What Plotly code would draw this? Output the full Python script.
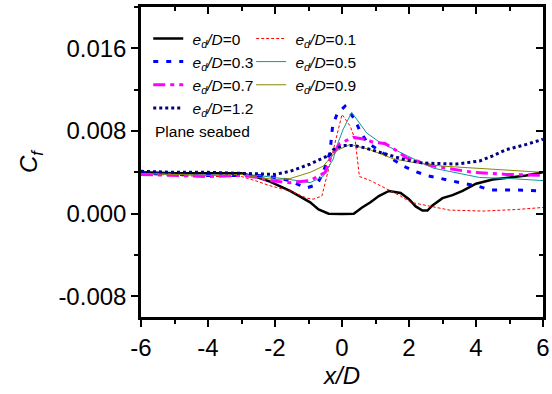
import plotly.graph_objects as go

# ---------------- data ----------------
x_e0 = [-6, -5, -4, -3, -2.5, -2.15, -1.55, -1.2, -0.95, -0.7, -0.4, 0, 0.35, 0.6, 0.85, 1.1, 1.4, 1.75, 2.0, 2.2, 2.4, 2.55, 2.7, 3.0, 3.3, 3.6, 4.0, 4.5, 5.0, 5.5, 6.0]
cf_e0 = [0.0040, 0.0039, 0.0039, 0.0039, 0.0035, 0.0031, 0.0022, 0.0016, 0.0011, 0.0004, 0.0000, -0.00003, 0.0000, 0.0006, 0.0011, 0.0017, 0.0022, 0.0020, 0.0014, 0.0007, 0.0003, 0.0003, 0.0008, 0.0015, 0.0018, 0.0022, 0.0029, 0.0033, 0.0035, 0.0037, 0.0040]

x_e01 = [-6, -5, -4, -3, -2.5, -2.15, -1.55, -1.05, -0.86, -0.6, 0.0, 0.24, 0.39, 0.52, 0.85, 1.35, 1.75, 2.05, 2.65, 3.2, 4.2, 5.2, 6.0]
cf_e01 = [0.0039, 0.0037, 0.0036, 0.0036, 0.0031, 0.0027, 0.0022, 0.0015, 0.0014, 0.0017, 0.0096, 0.0085, 0.0072, 0.0036, 0.0032, 0.0024, 0.0017, 0.0011, 0.0007, 0.00035, 0.00025, 0.0004, 0.0006]

x_e03 = [-6, -5, -4, -3, -2.5, -2.0, -1.55, -1.3, -1.05, -0.75, -0.56, -0.36, -0.28, -0.14, 0.09, 0.39, 0.52, 0.75, 1.2, 1.83, 2.18, 2.52, 2.92, 3.27, 3.67, 4.02, 4.41, 5.1, 6.0]
cf_e03 = [0.0039, 0.0038, 0.0037, 0.0037, 0.0037, 0.0035, 0.0032, 0.0028, 0.0025, 0.0028, 0.0040, 0.0059, 0.0085, 0.0097, 0.0104, 0.0091, 0.0081, 0.0069, 0.0059, 0.0046, 0.0041, 0.0037, 0.0034, 0.0032, 0.0029, 0.0027, 0.0023, 0.0023, 0.0022]

x_e05 = [-6, -5, -4, -3, -2.5, -1.55, -0.95, -0.56, -0.26, -0.16, 0.04, 0.29, 0.74, 1.13, 1.43, 1.63, 2.2, 2.73, 3.5, 4.11, 5.0, 6.0]
cf_e05 = [0.0039, 0.0038, 0.0037, 0.0038, 0.0037, 0.0033, 0.0030, 0.0036, 0.0053, 0.0065, 0.0082, 0.0098, 0.0078, 0.0069, 0.0064, 0.0061, 0.0052, 0.0044, 0.0039, 0.0035, 0.0034, 0.0032]

x_e07 = [-6, -5, -4, -3, -2.5, -2.15, -1.55, -0.95, -0.5, -0.36, -0.06, 0.34, 0.68, 0.94, 1.28, 1.63, 1.93, 2.73, 3.91, 4.91, 6.0]
cf_e07 = [0.0038, 0.0037, 0.0036, 0.0037, 0.0035, 0.0032, 0.0030, 0.0032, 0.0040, 0.0053, 0.0068, 0.0074, 0.0072, 0.0069, 0.0068, 0.0061, 0.0054, 0.0046, 0.0040, 0.0038, 0.0037]

x_e09 = [-6, -5, -4, -3, -2.5, -2.0, -1.55, -0.95, -0.56, -0.16, 0.24, 0.83, 1.53, 2.23, 3.0, 4.0, 5.0, 6.0]
cf_e09 = [0.0039, 0.0038, 0.0037, 0.0038, 0.0035, 0.0033, 0.0034, 0.0040, 0.0046, 0.0061, 0.0067, 0.0062, 0.0053, 0.0049, 0.0046, 0.0044, 0.0042, 0.0040]

x_e12 = [-6, -5, -4, -3, -2.5, -2.0, -1.55, -0.95, -0.36, -0.26, 0.04, 0.34, 0.64, 1.03, 1.38, 1.9, 2.42, 3.42, 4.11, 4.5, 4.91, 5.5, 6.0]
cf_e12 = [0.0041, 0.0040, 0.0040, 0.0039, 0.0038, 0.0038, 0.0041, 0.0048, 0.0057, 0.0062, 0.0066, 0.0066, 0.0064, 0.0060, 0.0057, 0.0052, 0.0049, 0.0048, 0.0051, 0.0056, 0.0062, 0.0067, 0.0072]

x_tickvals = [-6, -4, -2, 0, 2, 4, 6]
x_ticktext = ["-6", "-4", "-2", "0", "2", "4", "6"]
y_tickvals = [-0.008, 0.0, 0.008, 0.016]
y_ticktext = ["-0.008", "0.000", "0.008", "0.016"]

FONT = "Arial, Liberation Sans, sans-serif"
NB = "\u00a0"

series = [
    # name, x, y, color, width, dash, legend
    (NB + "<i>e<sub>d</sub>/D</i>=0", x_e0, cf_e0, "#000000", 2.5, "solid", "legend"),
    (NB + "<i>e<sub>d</sub>/D</i>=0.1", x_e01, cf_e01, "#FF0000", 1.0, "3px,2px", "legend2"),
    (NB + "<i>e<sub>d</sub>/D</i>=0.3", x_e03, cf_e03, "#0000FF", 3.0, "5px,8px", "legend"),
    (NB + "<i>e<sub>d</sub>/D</i>=0.5", x_e05, cf_e05, "#119999", 1.0, "solid", "legend2"),
    (NB + "<i>e<sub>d</sub>/D</i>=0.7", x_e07, cf_e07, "#FF00FF", 3.0, "12px,5px,4px,5px", "legend"),
    (NB + "<i>e<sub>d</sub>/D</i>=0.9", x_e09, cf_e09, "#888800", 1.0, "solid", "legend2"),
    (NB + "<i>e<sub>d</sub>/D</i>=1.2", x_e12, cf_e12, "#000080", 3.0, "3px,3px", "legend"),
]

fig = go.Figure()
for name, xs, ys, color, w, dash, lg in series:
    fig.add_trace(go.Scatter(x=xs, y=ys, mode="lines", name=name,
                             line=dict(color=color, width=w, dash=dash),
                             legend=lg, xaxis="x", yaxis="y"))

axis_common = dict(showgrid=False, zeroline=False, showline=True, linecolor="black",
                   linewidth=2.5, ticklen=7, tickwidth=2, tickcolor="black", automargin=False)

fig.update_layout(
    width=552, height=394,
    margin=dict(l=141, r=9, t=7, b=77),
    paper_bgcolor="white", plot_bgcolor="white",
    font=dict(family=FONT, color="black", size=24),
    xaxis=dict(range=[-6, 6], tickvals=x_tickvals, ticktext=x_ticktext, ticks="outside",
               tickfont=dict(size=24),
               minor=dict(dtick=1, tick0=0, ticklen=4, tickwidth=2, ticks="outside", tickcolor="black"),
               title=dict(text="<i>x/D</i>", font=dict(size=24), standoff=8),
               **axis_common),
    yaxis=dict(range=[-0.010, 0.020], tickvals=y_tickvals, ticktext=y_ticktext, ticks="outside",
               tickfont=dict(size=24),
               minor=dict(dtick=0.004, tick0=0, ticklen=4, tickwidth=2, ticks="outside", tickcolor="black"),
               title=dict(text="<i>C<sub>f</sub></i>", font=dict(size=24), standoff=14),
               **axis_common),
    xaxis2=dict(range=[-6, 6], overlaying="x", side="top", tickvals=x_tickvals, ticks="inside",
                showticklabels=False,
                minor=dict(dtick=1, tick0=0, ticklen=4, tickwidth=2, ticks="inside", tickcolor="black"),
                **axis_common),
    yaxis2=dict(range=[-0.010, 0.020], overlaying="y", side="right", tickvals=y_tickvals, ticks="inside",
                showticklabels=False,
                minor=dict(dtick=0.004, tick0=0, ticklen=4, tickwidth=2, ticks="inside", tickcolor="black"),
                **axis_common),
    legend=dict(x=0.018, y=0.952, xanchor="left", yanchor="top", bgcolor="rgba(0,0,0,0)",
                font=dict(size=15.5, family=FONT), itemwidth=30, tracegroupgap=0),
    legend2=dict(x=0.274, y=0.952, xanchor="left", yanchor="top", bgcolor="rgba(0,0,0,0)",
                 font=dict(size=15.5, family=FONT), itemwidth=30, tracegroupgap=0),
    showlegend=True,
    annotations=[dict(text="Plane seabed", x=0.03, y=0.6, xref="paper", yref="paper",
                      xanchor="left", yanchor="middle", showarrow=False,
                      font=dict(size=15.5, family=FONT, color="black"))],
)

# invisible trace anchoring the mirrored (top/right) axes
fig.add_trace(go.Scatter(x=[None], y=[None], xaxis="x2", yaxis="y2", showlegend=False, hoverinfo="skip"))

fig.write_html("out.html", config={"displayModeBar": False},
               post_script="document.body.style.margin='0';document.body.style.overflow='hidden';")
